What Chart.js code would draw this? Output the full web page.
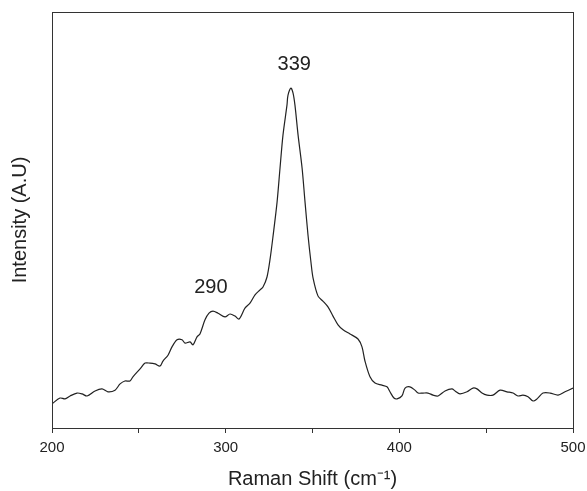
<!doctype html>
<html>
<head>
    <title>Raman Spectrum</title>
    <script src="https://cdn.jsdelivr.net/npm/chart.js@4/dist/chart.umd.min.js"></script>
    <style>
    body { margin: 0; background: #fff; }
    #wrap { width: 587px; height: 491px; }
    </style>
</head>
<body>
    <div id="wrap">
        <canvas id="canvas" width="587" height="491"></canvas>
    </div>
    <script>
    // Raman shift (cm-1) and intensity (arbitrary units)
    var shift = [200, 204.6, 207.5, 210.4, 214.4, 217.3, 220.2, 224.8, 228.8, 232.2,
        236.3, 239.2, 242.0, 244.9, 246.6, 250.7, 253.6, 256.4, 259.3, 262.2,
        263.9, 266.8, 269.1, 272.0, 274.9, 276.6, 279.5, 281.2, 283.5, 285.2,
        288.1, 290.4, 292.7, 295.6, 299.6, 302.5, 305.4, 307.7, 311.1, 314.0,
        316.9, 319.8, 321.5, 323.8, 325.5, 327.3, 329.6, 331.3, 333.0, 335.3,
        335.9, 337.6, 338.8, 339.9, 341.7, 344.0, 345.7, 347.4, 349.1, 350.3,
        353.2, 356.0, 358.9, 361.8, 364.7, 367.6, 371.6, 376.2, 378.5, 380.2,
        383.1, 386.0, 390.0, 392.9, 394.6, 396.9, 398.7, 401.5, 403.3, 406.1,
        409.0, 410.8, 413.6, 416.5, 419.4, 422.3, 426.3, 430.3, 432.1, 434.9,
        439.0, 442.4, 444.7, 447.6, 450.5, 453.9, 458.0, 462.0, 465.5, 468.3,
        471.2, 474.1, 477.0, 479.3, 482.7, 486.8, 491.4, 495.4, 500];
    var intensity = [58, 72, 70, 77, 84, 82, 77, 89, 94, 87,
        91, 106, 113, 113, 123, 142, 156, 156, 154, 149,
        161, 175, 195, 212, 212, 204, 207, 200, 219, 226,
        260, 276, 281, 276, 267, 274, 269, 262, 288, 300,
        320, 332, 339, 363, 404, 462, 543, 625, 704, 776,
        800, 817, 805, 776, 704, 625, 543, 464, 399, 361,
        317, 305, 291, 269, 248, 236, 226, 214, 195, 161,
        123, 108, 103, 99, 87, 72, 70, 77, 96, 99,
        91, 84, 84, 84, 79, 77, 89, 94, 89, 82,
        87, 96, 94, 84, 79, 79, 91, 87, 84, 77,
        79, 75, 65, 70, 84, 84, 79, 87, 96];

    // peak annotations
    var peakText = ['339', '290'];
    var peakX = [339.5, 291.5];
    var peakY = [873, 337];

    var points = shift.map(function(x, i) { return {x: x, y: intensity[i]}; });

    var fontFamily = '"Liberation Sans", Arial, sans-serif';

    var frame = {
        id: 'frame',
        afterDraw: function(chart) {
            var a = chart.chartArea, ctx = chart.ctx;
            ctx.save();
            ctx.strokeStyle = '#333';
            ctx.lineWidth = 1;
            ctx.strokeRect(Math.round(a.left) + 0.5, Math.round(a.top) + 0.5,
                Math.round(a.right - a.left), Math.round(a.bottom - a.top));
            ctx.fillStyle = '#222';
            ctx.font = '20px ' + fontFamily;
            ctx.textAlign = 'center';
            ctx.textBaseline = 'middle';
            for (var i = 0; i < peakText.length; i++) {
                ctx.fillText(peakText[i], chart.scales.x.getPixelForValue(peakX[i]),
                    chart.scales.y.getPixelForValue(peakY[i]));
            }
            ctx.restore();
        }
    };

    var config = {
        type: 'line',
        data: {
            datasets: [{
                data: points,
                borderColor: '#222',
                borderWidth: 1.2,
                pointRadius: 0,
                tension: 0.3,
                fill: false
            }]
        },
        options: {
            responsive: false,
            animation: false,
            layout: { padding: { top: 12, right: 14, left: 0, bottom: 0 } },
            plugins: { legend: { display: false }, tooltip: { enabled: false } },
            scales: {
                x: {
                    type: 'linear',
                    min: 200,
                    max: 500,
                    afterFit: function(s) { s.height = 63; s.paddingLeft = 0; s.paddingRight = 0; },
                    border: { display: false },
                    grid: { drawOnChartArea: false, tickLength: 5, color: '#333' },
                    ticks: {
                        stepSize: 50,
                        padding: 6,
                        color: '#222',
                        maxRotation: 0,
                        font: { family: fontFamily, size: 15 },
                        callback: function(v) { return v % 100 === 0 ? v : ''; }
                    },
                    title: {
                        display: true,
                        text: 'Raman Shift (cm\u207B\u00B9)',
                        color: '#222',
                        font: { family: fontFamily, size: 20 },
                        padding: { top: 0, bottom: 0 }
                    }
                },
                y: {
                    min: 0,
                    max: 1000,
                    afterFit: function(s) { s.width = 52; },
                    border: { display: false },
                    grid: { display: false },
                    ticks: { display: false },
                    title: {
                        display: true,
                        text: 'Intensity (A.U)',
                        color: '#222',
                        font: { family: fontFamily, size: 20 },
                        padding: { top: 8, bottom: 0 }
                    }
                }
            }
        },
        plugins: [frame]
    };

    new Chart(document.getElementById('canvas'), config);
    </script>
</body>
</html>
